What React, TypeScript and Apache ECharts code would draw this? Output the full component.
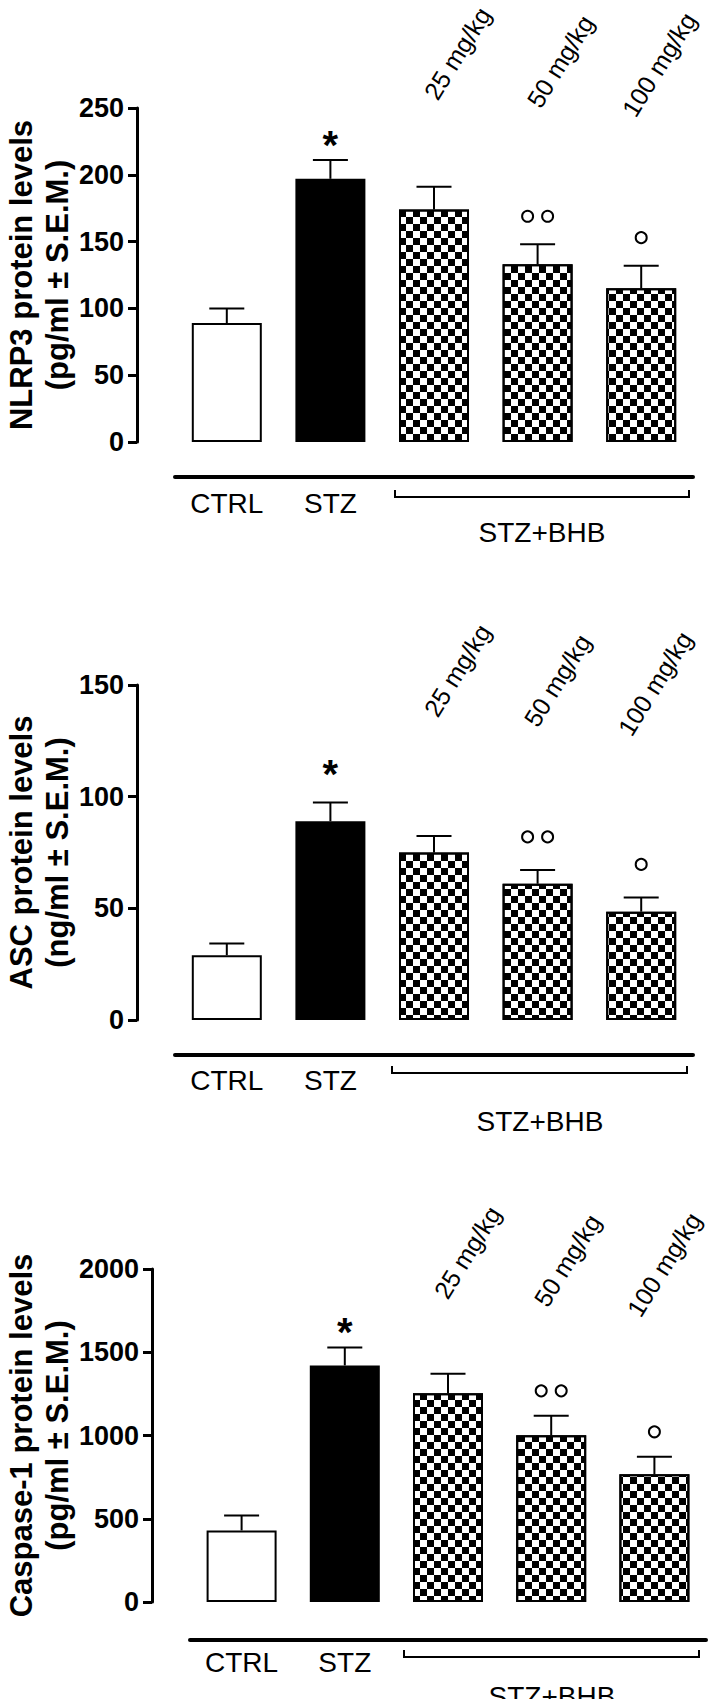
import React, { useEffect, useRef } from 'react';
import * as echarts from 'echarts';

// ---- data ----
const groups = ['CTRL', 'STZ', '25 mg/kg', '50 mg/kg', '100 mg/kg'];
const doseLabels = ['25 mg/kg', '50 mg/kg', '100 mg/kg'];
const groupLabel = 'STZ+BHB';

const nlrp3Mean = [89, 197, 174, 133, 115];
const nlrp3Sem = [11, 14, 17, 15, 17];
const ascMean = [29, 89, 75, 61, 48.5];
const ascSem = [5.3, 8.4, 7.4, 6.2, 6.4];
const casp1Mean = [430, 1421, 1254, 1001, 767];
const casp1Sem = [90, 107, 117, 117, 105];

const starMarks = [0, 1, 0, 0, 0];
const circleMarks = [0, 0, 0, 2, 1];

const nlrp3Ticks = { max: 250, interval: 50 };
const ascTicks = { max: 150, interval: 50 };
const casp1Ticks = { max: 2000, interval: 500 };

const nlrp3Title = ['NLRP3 protein levels', '(pg/ml \u00b1 S.E.M.)'];
const ascTitle = ['ASC protein levels', '(ng/ml \u00b1 S.E.M.)'];
const casp1Title = ['Caspase-1 protein levels', '(pg/ml \u00b1 S.E.M.)'];

const FONT = '"Liberation Sans", Arial, Helvetica, sans-serif';

const panelsData = [
  { mean: nlrp3Mean, sem: nlrp3Sem, ticks: nlrp3Ticks, title: nlrp3Title },
  { mean: ascMean, sem: ascSem, ticks: ascTicks, title: ascTitle },
  { mean: casp1Mean, sem: casp1Sem, ticks: casp1Ticks, title: casp1Title },
];

const layouts = [
  { axisX: 137, left: 175, width: 518, top: 108, height: 334, base: 35, labelMargin: 12, titleX: [21, 57],
    bracketY: 497, bracketX: [395, 689], groupLabelX: 542, groupLabelY: 532,
    dose: [[430, 97], [533, 105], [628, 114]], starOff: 25, circOff: 28 },
  { axisX: 137, left: 175, width: 518, top: 685, height: 335, base: 35, labelMargin: 11, titleX: [21, 57],
    bracketY: 1073, bracketX: [392, 687], groupLabelX: 540, groupLabelY: 1121,
    dose: [[430, 714], [530, 724], [624, 733]], starOff: 38, circOff: 33 },
  { axisX: 152, left: 190, width: 516, top: 1269, height: 333, base: 38, labelMargin: 8, titleX: [21, 57],
    bracketY: 1657, bracketX: [404, 699], groupLabelX: 552, groupLabelY: 1696,
    dose: [[440, 1296], [540, 1304], [633, 1314]], starOff: 26, circOff: 25 },
];

const checker = {
  symbol: 'rect',
  symbolSize: 1,
  color: '#000',
  backgroundColor: '#fff',
  dashArrayX: [[7, 7], [0, 7, 7, 0]],
  dashArrayY: [7, 0],
  rotation: 0,
};

const barStyles = [
  { color: '#fff', borderColor: '#000', borderWidth: 2 },
  { color: '#000', borderColor: '#000', borderWidth: 2 },
  { color: '#fff', borderColor: '#000', borderWidth: 2, decal: checker },
  { color: '#fff', borderColor: '#000', borderWidth: 2, decal: checker },
  { color: '#fff', borderColor: '#000', borderWidth: 2, decal: checker },
];

function buildOption() {
  const grid: any[] = [];
  const xAxis: any[] = [];
  const yAxis: any[] = [];
  const series: any[] = [];
  const graphic: any[] = [];

  panelsData.forEach((p, k) => {
    const L = layouts[k];
    grid.push({ left: L.left, top: L.top, width: L.width, height: L.height });
    xAxis.push({
      type: 'category', gridIndex: k, data: groups, position: 'bottom', offset: L.base,
      axisLine: { show: true, onZero: false, lineStyle: { color: '#000', width: 4 } },
      axisTick: { show: false },
      axisLabel: {
        show: true, margin: L.labelMargin, color: '#000', fontSize: 28, fontFamily: FONT,
        formatter: (v: string, i: number) => (i < 2 ? v : ''),
      },
      splitLine: { show: false },
    });
    yAxis.push({
      type: 'value', gridIndex: k, min: 0, max: p.ticks.max, interval: p.ticks.interval,
      offset: L.left - L.axisX,
      axisLine: { show: true, lineStyle: { color: '#000', width: 3 } },
      axisTick: { show: true, length: 9, lineStyle: { color: '#000', width: 3 } },
      axisLabel: {
        color: '#000', fontSize: 27, fontWeight: 'bold', fontFamily: FONT, margin: 13,
        formatter: (v: number) => String(v),
      },
      splitLine: { show: false },
    });
    series.push({
      type: 'bar', xAxisIndex: k, yAxisIndex: k, barWidth: 70,
      data: p.mean.map((v, i) => ({ value: v, itemStyle: barStyles[i] })),
      z: 2,
    });
    series.push({
      type: 'custom', xAxisIndex: k, yAxisIndex: k, z: 3,
      data: p.mean.map((m, i) => [i, m, m + p.sem[i]]),
      renderItem: (params: any, api: any) => {
        const x = api.value(0);
        const a = api.coord([x, api.value(1)]);
        const b = api.coord([x, api.value(2)]);
        const st = { stroke: '#000', lineWidth: 2 };
        return {
          type: 'group',
          children: [
            { type: 'line', shape: { x1: a[0], y1: a[1], x2: b[0], y2: b[1] }, style: st },
            { type: 'line', shape: { x1: b[0] - 17.5, y1: b[1], x2: b[0] + 17.5, y2: b[1] }, style: st },
          ],
        };
      },
    });
    series.push({
      type: 'custom', xAxisIndex: k, yAxisIndex: k, z: 4,
      data: p.mean.map((m, i) => [i, m + p.sem[i], starMarks[i], circleMarks[i]]),
      renderItem: (params: any, api: any) => {
        const x = api.value(0);
        const b = api.coord([x, api.value(1)]);
        const children: any[] = [];
        if (api.value(2) > 0) {
          children.push({
            type: 'text', x: b[0], y: b[1] - L.starOff + 10,
            style: { text: '*', font: `bold 40px ${FONT}`, fill: '#000', align: 'center', verticalAlign: 'middle' },
          });
        }
        const n = api.value(3);
        const cy = b[1] - L.circOff;
        for (let j = 0; j < n; j++) {
          const cx = n === 1 ? b[0] : b[0] + (j === 0 ? -10 : 10);
          children.push({ type: 'circle', shape: { cx, cy, r: 5.5 }, style: { fill: 'none', stroke: '#000', lineWidth: 2 } });
        }
        return { type: 'group', children };
      },
    });

    const cy = L.top + L.height / 2;
    p.title.forEach((t, j) => {
      graphic.push({
        type: 'text', x: L.titleX[j], y: cy, rotation: Math.PI / 2,
        style: { text: t, font: `bold 31px ${FONT}`, fill: '#000', align: 'center', verticalAlign: 'middle' },
      });
    });
    doseLabels.forEach((t, j) => {
      graphic.push({
        type: 'text', x: L.dose[j][0], y: L.dose[j][1], rotation: (58 * Math.PI) / 180,
        style: { text: t, font: `25px ${FONT}`, fill: '#000', align: 'left', verticalAlign: 'middle' },
      });
    });
    const [bx0, bx1] = L.bracketX;
    graphic.push({
      type: 'polyline',
      shape: { points: [[bx0, L.bracketY - 7], [bx0, L.bracketY], [bx1, L.bracketY], [bx1, L.bracketY - 7]] },
      style: { stroke: '#000', lineWidth: 2, fill: 'none' },
    });
    graphic.push({
      type: 'text', x: L.groupLabelX, y: L.groupLabelY,
      style: { text: groupLabel, font: `28px ${FONT}`, fill: '#000', align: 'center', verticalAlign: 'middle' },
    });
  });

  return { animation: false, backgroundColor: '#fff', grid, xAxis, yAxis, series, graphic };
}

export default function App() {
  const ref = useRef<HTMLDivElement>(null);
  useEffect(() => {
    if (!ref.current) return;
    const chart = echarts.init(ref.current, undefined, { renderer: 'svg' });
    chart.setOption(buildOption() as any);
    return () => chart.dispose();
  }, []);
  return (
    <div
      ref={ref}
      style={{ position: 'absolute', left: 0, top: 0, width: 709, height: 1699, background: '#fff' }}
    />
  );
}
